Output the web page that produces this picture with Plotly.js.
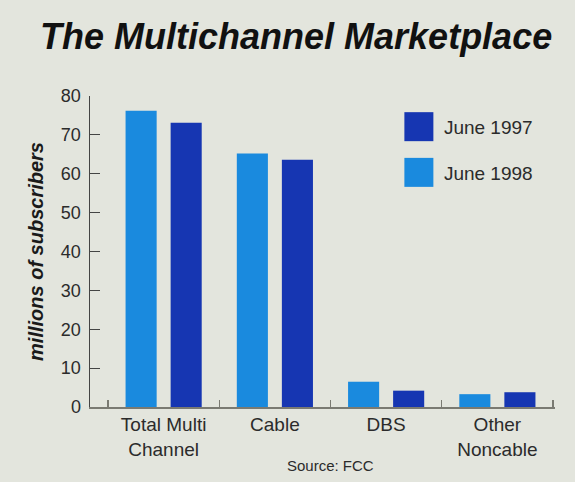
<!DOCTYPE html>
<html>
<head>
<meta charset="utf-8">
<script src="https://cdn.plot.ly/plotly-3.0.1.min.js"></script>
<style>
  html, body { margin: 0; padding: 0; background: #e3e5dd; }
  #chart { width: 575px; height: 482px; }
</style>
</head>
<body>
<div id="chart"></div>
<script>
// ---- data ----
var categories = ["Total Multi<br>Channel", "Cable", "DBS", "Other<br>Noncable"];
var june1998 = [76.2, 65.2, 6.5, 3.3];
var june1997 = [73.1, 63.6, 4.2, 3.8];
var seriesNames = ["June 1998", "June 1997"];
var yTicks = [0, 10, 20, 30, 40, 50, 60, 70, 80];

var BG = "#e3e5dd";
var LIGHT = "#1a8ade";
var DARK = "#1636b2";
var FONT = "Liberation Sans, Arial, sans-serif";

var traces = [
  {
    type: "bar", name: seriesNames[0], x: categories, y: june1998,
    marker: { color: LIGHT }, legendrank: 2, legendgroup: "a"
  },
  {
    type: "bar", name: seriesNames[1], x: categories, y: june1997,
    marker: { color: DARK }, legendrank: 1, legendgroup: "b"
  }
];

var layout = {
  width: 575, height: 482,
  paper_bgcolor: BG, plot_bgcolor: BG,
  margin: { l: 90, r: 20, t: 96, b: 75 },
  font: { family: FONT, size: 19, color: "#2b2b2b" },
  title: {
    text: "<b><i>The Multichannel Marketplace</i></b>",
    font: { family: FONT, size: 36, color: "#111" },
    x: 0.515, xref: "container", xanchor: "center",
    y: 0.925, yref: "container", yanchor: "middle"
  },
  barmode: "group",
  bargap: 0.19,
  bargroupgap: 0.31,
  showlegend: true,
  legend: {
    x: 0.6535, y: 0.962, xanchor: "left", yanchor: "top",
    bgcolor: "rgba(0,0,0,0)",
    font: { family: FONT, size: 19, color: "#2b2b2b" },
    traceorder: "grouped",
    tracegroupgap: 18,
    itemwidth: 40
  },
  xaxis: {
    type: "category",
    range: [-0.662, 3.518],
    showline: true, linecolor: "#7a7a72", linewidth: 1.5,
    ticks: "inside", tickson: "boundaries", ticklen: 7, tickcolor: "#7a7a72", tickwidth: 1.2,
    showgrid: false, zeroline: false,
    tickfont: { family: FONT, size: 19, color: "#2b2b2b" },
    fixedrange: true
  },
  yaxis: {
    range: [0, 80],
    tickvals: yTicks,
    showline: true, linecolor: "#444", linewidth: 1.5,
    ticks: "inside", ticklen: 10, tickcolor: "#444", tickwidth: 1.2,
    ticklabelstandoff: 4,
    showgrid: false, zeroline: false,
    tickfont: { family: FONT, size: 18, color: "#2b2b2b" },
    title: {
      text: "<b><i>millions of subscribers</i></b>",
      font: { family: FONT, size: 20, color: "#1a1a1a" },
      standoff: 12
    },
    fixedrange: true
  },
  annotations: [
    {
      text: "Source: FCC", xref: "paper", yref: "paper",
      x: (330 - 90) / 465, y: (407 - 465) / 311,
      xanchor: "center", yanchor: "middle", showarrow: false,
      font: { family: FONT, size: 15, color: "#2b2b2b" }
    }
  ]
};

Plotly.newPlot("chart", traces, layout, { displayModeBar: false, staticPlot: true }).then(function () {
  // enlarge the legend swatches to match the reference's big squares
  document.querySelectorAll(".legend [clip-path]").forEach(function (el) {
    el.removeAttribute("clip-path");
  });
  document.querySelectorAll(".legendpoints path").forEach(function (p) {
    p.setAttribute("d", "M14.5,14.5H-14.5V-14.5H14.5Z");
  });
});
</script>
</body>
</html>
